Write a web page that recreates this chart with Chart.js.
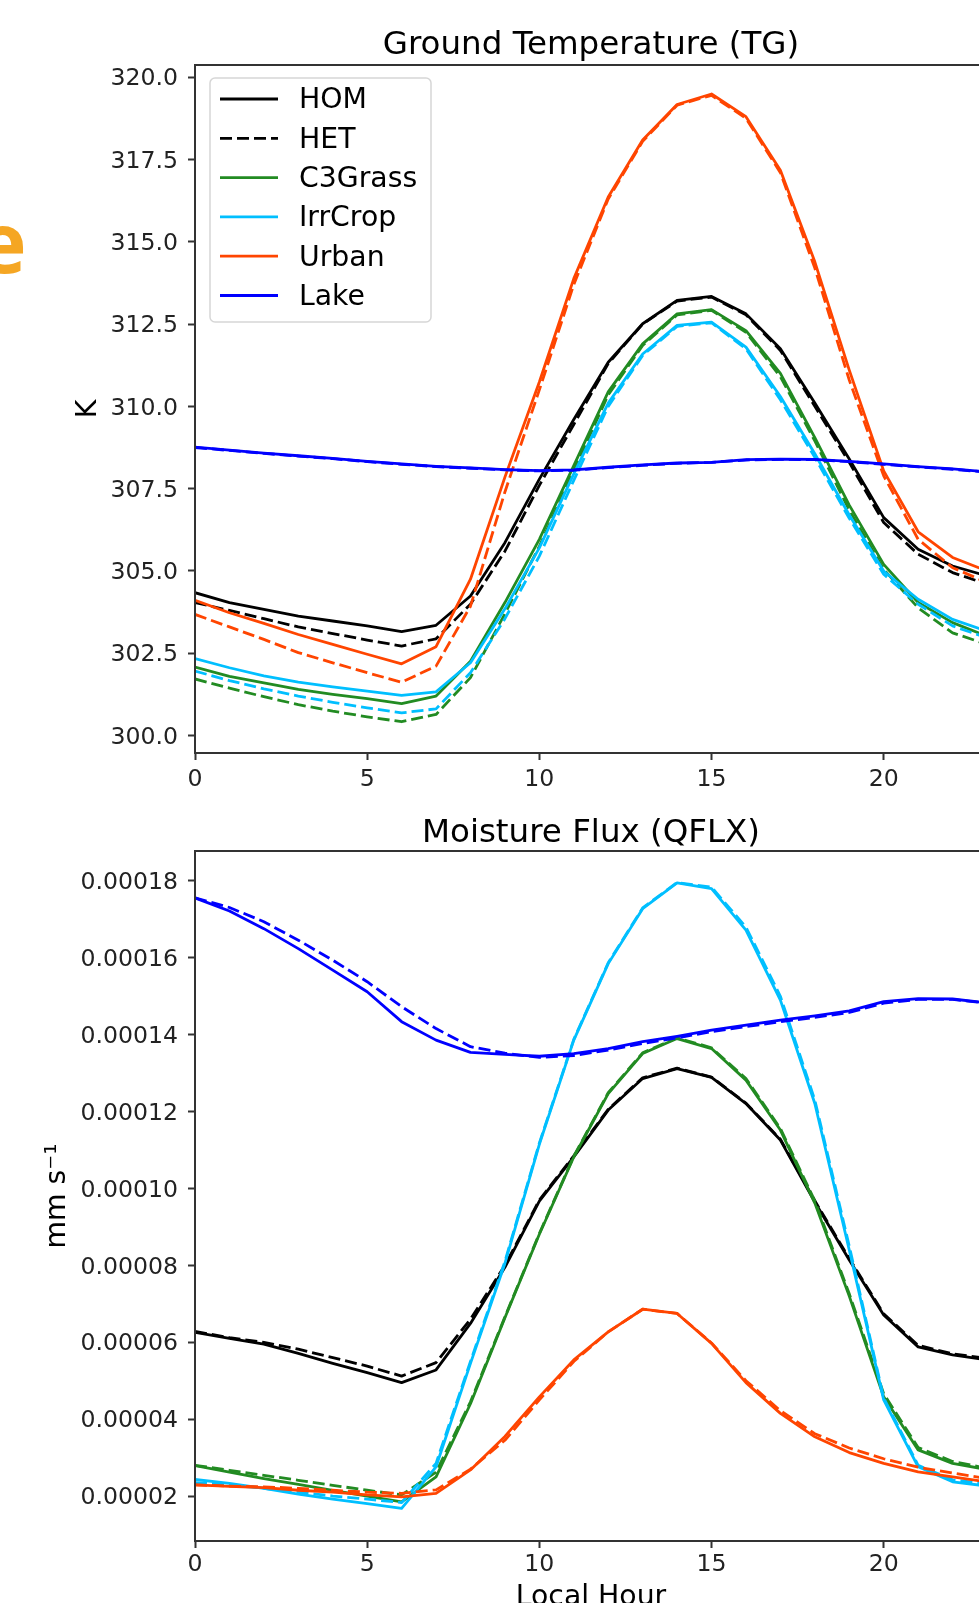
<!DOCTYPE html>
<html>
<head>
<meta charset="utf-8">
<script src="https://cdn.jsdelivr.net/npm/chart.js@4.4.1/dist/chart.umd.min.js"></script>
<style>
	body { margin: 0; background: #fff; overflow: hidden; width: 979px; height: 1603px; position: relative; }
	canvas { position: absolute; left: 0; }
	#tg { top: 0; }
	#qflx { top: 790px; }
	.cut { position: absolute; left: -23px; top: 199px; font: bold 84px "Open Sans", sans-serif; line-height: 84px; color: #f5a623; }
</style>
</head>
<body>
<div class="cut">e</div>
<canvas id="tg" width="1000" height="790"></canvas>
<canvas id="qflx" width="1000" height="831"></canvas>
<script>
const hours = [0, 1, 2, 3, 4, 5, 6, 7, 8, 9, 10, 11, 12, 13, 14, 15, 16, 17, 18, 19, 20, 21, 22, 23];
const hourTicks = [0, 5, 10, 15, 20];

// Ground temperature (K)
const tgHOM = [304.34, 304.04, 303.83, 303.63, 303.48, 303.33, 303.16, 303.35, 304.24, 305.86, 307.79, 309.60, 311.34, 312.51, 313.22, 313.34, 312.81, 311.75, 310.10, 308.40, 306.62, 305.66, 305.15, 304.85];
const tgHET = [304.04, 303.80, 303.55, 303.30, 303.10, 302.90, 302.72, 302.94, 303.99, 305.60, 307.60, 309.45, 311.30, 312.50, 313.20, 313.32, 312.78, 311.70, 310.00, 308.30, 306.47, 305.51, 304.95, 304.60];
const tgGrassHOM = [302.08, 301.80, 301.60, 301.40, 301.25, 301.12, 300.97, 301.20, 302.26, 304.04, 305.96, 308.20, 310.44, 311.90, 312.81, 312.94, 312.30, 311.00, 309.05, 307.00, 305.20, 304.04, 303.43, 303.02];
const tgGrassHET = [301.72, 301.44, 301.18, 300.94, 300.74, 300.57, 300.42, 300.64, 301.76, 303.70, 305.75, 308.05, 310.35, 311.85, 312.78, 312.92, 312.25, 310.90, 308.95, 306.85, 305.05, 303.88, 303.12, 302.77];
const tgCropHOM = [302.34, 302.06, 301.81, 301.62, 301.48, 301.35, 301.22, 301.33, 302.21, 303.85, 305.70, 307.95, 310.10, 311.59, 312.46, 312.56, 311.80, 310.30, 308.56, 306.70, 305.00, 304.14, 303.53, 303.17];
const tgCropHET = [301.96, 301.67, 301.42, 301.20, 301.01, 300.84, 300.69, 300.81, 301.91, 303.55, 305.45, 307.75, 310.00, 311.55, 312.43, 312.54, 311.75, 310.20, 308.45, 306.60, 304.90, 303.99, 303.33, 302.97];
const tgUrbanHOM = [304.11, 303.73, 303.41, 303.07, 302.77, 302.47, 302.18, 302.70, 304.75, 307.85, 310.74, 313.88, 316.36, 318.09, 319.17, 319.49, 318.80, 317.17, 314.39, 311.10, 308.04, 306.19, 305.41, 305.00];
const tgUrbanHET = [303.68, 303.30, 302.92, 302.52, 302.21, 301.91, 301.62, 302.11, 303.93, 307.40, 310.50, 313.70, 316.30, 318.05, 319.15, 319.45, 318.75, 317.10, 314.20, 310.80, 307.89, 305.96, 305.10, 304.65];
const tgLakeHOM = [308.76, 308.67, 308.58, 308.50, 308.42, 308.33, 308.25, 308.18, 308.13, 308.08, 308.05, 308.07, 308.15, 308.22, 308.28, 308.30, 308.38, 308.40, 308.39, 308.33, 308.25, 308.17, 308.10, 308.01];
const tgLakeHET = [308.75, 308.66, 308.57, 308.49, 308.41, 308.32, 308.24, 308.17, 308.12, 308.07, 308.04, 308.06, 308.14, 308.21, 308.27, 308.30, 308.37, 308.39, 308.38, 308.32, 308.24, 308.16, 308.09, 308.00];
const tgTicks = [300.0, 302.5, 305.0, 307.5, 310.0, 312.5, 315.0, 317.5, 320.0];

// Moisture flux (mm s-1)
const qHOM = [6.26e-5, 6.10e-5, 5.95e-5, 5.71e-5, 5.45e-5, 5.21e-5, 4.95e-5, 5.28e-5, 6.49e-5, 7.95e-5, 9.67e-5, 10.82e-5, 12.04e-5, 12.86e-5, 13.12e-5, 12.89e-5, 12.21e-5, 11.26e-5, 9.65e-5, 8.14e-5, 6.71e-5, 5.88e-5, 5.67e-5, 5.54e-5];
const qHET = [6.28e-5, 6.12e-5, 6.00e-5, 5.82e-5, 5.60e-5, 5.38e-5, 5.12e-5, 5.47e-5, 6.60e-5, 8.00e-5, 9.70e-5, 10.85e-5, 12.06e-5, 12.88e-5, 13.13e-5, 12.90e-5, 12.22e-5, 11.28e-5, 9.68e-5, 8.18e-5, 6.74e-5, 5.92e-5, 5.70e-5, 5.58e-5];
const qGrassHOM = [2.79e-5, 2.62e-5, 2.45e-5, 2.30e-5, 2.15e-5, 2.00e-5, 1.85e-5, 2.50e-5, 4.40e-5, 6.64e-5, 8.81e-5, 10.82e-5, 12.47e-5, 13.51e-5, 13.90e-5, 13.64e-5, 12.82e-5, 11.52e-5, 9.62e-5, 7.20e-5, 4.58e-5, 3.20e-5, 2.85e-5, 2.69e-5];
const qGrassHET = [2.80e-5, 2.67e-5, 2.54e-5, 2.41e-5, 2.28e-5, 2.15e-5, 2.03e-5, 2.62e-5, 4.45e-5, 6.66e-5, 8.83e-5, 10.84e-5, 12.49e-5, 13.53e-5, 13.92e-5, 13.66e-5, 12.86e-5, 11.56e-5, 9.68e-5, 7.26e-5, 4.66e-5, 3.26e-5, 2.90e-5, 2.72e-5];
const qCropHOM = [2.43e-5, 2.33e-5, 2.20e-5, 2.05e-5, 1.92e-5, 1.80e-5, 1.68e-5, 2.76e-5, 5.45e-5, 8.05e-5, 11.15e-5, 13.86e-5, 15.85e-5, 17.28e-5, 17.95e-5, 17.80e-5, 16.72e-5, 14.90e-5, 12.21e-5, 8.40e-5, 4.50e-5, 2.76e-5, 2.37e-5, 2.26e-5];
const qCropHET = [2.35e-5, 2.29e-5, 2.20e-5, 2.10e-5, 2.00e-5, 1.92e-5, 1.83e-5, 2.85e-5, 5.50e-5, 8.10e-5, 11.18e-5, 13.88e-5, 15.87e-5, 17.30e-5, 17.96e-5, 17.84e-5, 16.80e-5, 15.00e-5, 12.30e-5, 8.50e-5, 4.55e-5, 2.80e-5, 2.42e-5, 2.32e-5];
const qUrbanHOM = [2.29e-5, 2.25e-5, 2.22e-5, 2.15e-5, 2.10e-5, 2.03e-5, 1.98e-5, 2.07e-5, 2.68e-5, 3.55e-5, 4.58e-5, 5.54e-5, 6.27e-5, 6.86e-5, 6.75e-5, 5.97e-5, 4.95e-5, 4.15e-5, 3.54e-5, 3.13e-5, 2.85e-5, 2.63e-5, 2.50e-5, 2.37e-5];
const qUrbanHET = [2.29e-5, 2.26e-5, 2.24e-5, 2.20e-5, 2.15e-5, 2.10e-5, 2.07e-5, 2.16e-5, 2.70e-5, 3.45e-5, 4.50e-5, 5.50e-5, 6.27e-5, 6.86e-5, 6.75e-5, 5.98e-5, 5.00e-5, 4.22e-5, 3.62e-5, 3.25e-5, 2.97e-5, 2.75e-5, 2.60e-5, 2.45e-5];
const qLakeHOM = [17.56e-5, 17.22e-5, 16.76e-5, 16.24e-5, 15.68e-5, 15.12e-5, 14.34e-5, 13.86e-5, 13.54e-5, 13.49e-5, 13.44e-5, 13.51e-5, 13.64e-5, 13.82e-5, 13.96e-5, 14.12e-5, 14.25e-5, 14.38e-5, 14.49e-5, 14.62e-5, 14.86e-5, 14.94e-5, 14.93e-5, 14.83e-5];
const qLakeHET = [17.56e-5, 17.31e-5, 16.94e-5, 16.46e-5, 15.94e-5, 15.38e-5, 14.73e-5, 14.16e-5, 13.69e-5, 13.52e-5, 13.41e-5, 13.46e-5, 13.60e-5, 13.77e-5, 13.92e-5, 14.08e-5, 14.21e-5, 14.34e-5, 14.45e-5, 14.58e-5, 14.82e-5, 14.92e-5, 14.92e-5, 14.82e-5];
const qTicks = [2e-5, 4e-5, 6e-5, 8e-5, 10e-5, 12e-5, 14e-5, 16e-5, 18e-5];

const dash = [12, 5];
const axisColor = '#333';
const tickFont = 23.6;
const labelFont = 28.3;

Chart.defaults.font.family = "'DejaVu Sans'";
Chart.defaults.color = '#222';

function series(label, values, color, dashed, inLegend) {
	return {
		label: label,
		data: hours.map((h, i) => ({ x: h, y: values[i] })),
		borderColor: color,
		backgroundColor: color,
		borderWidth: 2.8,
		borderDash: dashed ? dash : [],
		borderJoinStyle: 'round',
		pointRadius: 0,
		tension: 0,
		inLegend: inLegend,
	};
}

function buildDatasets(set) {
	const list = [
		series('HOM', set[0], '#000000', false, true),
		series('HET', set[1], '#000000', true, true),
		series('C3Grass', set[2], '#228b22', false, true),
		series('C3Grass HET', set[3], '#228b22', true, false),
		series('IrrCrop', set[4], '#00bfff', false, true),
		series('IrrCrop HET', set[5], '#00bfff', true, false),
		series('Urban', set[6], '#ff4500', false, true),
		series('Urban HET', set[7], '#ff4500', true, false),
		series('Lake', set[8], '#0000ff', false, true),
		series('Lake HET', set[9], '#0000ff', true, false),
	];
	// later series drawn on top, like the plotting order
	list.forEach((d, i) => { d.order = -i; });
	return list;
}

const frame = {
	id: 'frame',
	afterDatasetsDraw(chart) {
		const { ctx, chartArea: a } = chart;
		ctx.save();
		ctx.strokeStyle = axisColor;
		ctx.lineWidth = 2;
		ctx.strokeRect(a.left, a.top, a.right - a.left, a.bottom - a.top);
		ctx.restore();
	}
};

const legendBox = {
	id: 'legendBox',
	afterDatasetsDraw(chart) {
		const { ctx, chartArea } = chart;
		const items = chart.data.datasets.filter(d => d.inLegend);
		const x0 = chartArea.left + 15;
		const y0 = chartArea.top + 13;
		const rowH = 39.3;
		ctx.save();
		ctx.fillStyle = 'rgba(255,255,255,0.8)';
		ctx.strokeStyle = 'rgba(204,204,204,0.8)';
		ctx.lineWidth = 1.5;
		ctx.beginPath();
		ctx.roundRect(x0, y0, 221, 244, 5);
		ctx.fill();
		ctx.stroke();
		ctx.font = labelFont + "px 'DejaVu Sans'";
		ctx.textBaseline = 'middle';
		items.forEach((d, i) => {
			const y = y0 + 21 + i * rowH;
			ctx.strokeStyle = d.borderColor;
			ctx.lineWidth = d.borderWidth;
			ctx.setLineDash(d.borderDash);
			ctx.beginPath();
			ctx.moveTo(x0 + 10, y);
			ctx.lineTo(x0 + 68, y);
			ctx.stroke();
			ctx.setLineDash([]);
			ctx.fillStyle = '#000';
			ctx.fillText(d.label, x0 + 89, y + 2);
		});
		ctx.restore();
	}
};

function makeChart(id, opts) {
	const ctx = document.getElementById(id).getContext('2d');
	return new Chart(ctx, {
		type: 'line',
		data: { datasets: opts.datasets },
		options: {
			responsive: false,
			animation: false,
			layout: { padding: { left: 0, right: 13, top: 0, bottom: 0 } },
			plugins: {
				legend: { display: false },
				tooltip: { enabled: false },
				title: {
					display: true,
					text: opts.title,
					fullSize: false,
					color: '#000',
					font: { size: 32.5, weight: 'normal', lineHeight: 1 },
					padding: opts.titlePadding
				}
			},
			scales: {
				x: {
					type: 'linear',
					min: 0,
					max: 23,
					afterBuildTicks: s => { s.ticks = hourTicks.map(v => ({ value: v })); },
					afterFit: s => { s.height = opts.xHeight; },
					ticks: { font: { size: tickFont }, padding: opts.xTickPad, maxRotation: 0, callback: v => String(v) },
					grid: { drawOnChartArea: false, tickLength: 7, tickWidth: 2, tickColor: axisColor },
					border: { color: axisColor, width: 2 },
					title: opts.xTitle
				},
				y: {
					min: opts.yMin,
					max: opts.yMax,
					afterBuildTicks: s => { s.ticks = opts.yTicks.map(v => ({ value: v })); },
					afterFit: s => { s.width = 195; },
					ticks: { font: { size: tickFont }, padding: 10, labelOffset: 2, callback: opts.yFormat },
					grid: { drawOnChartArea: false, tickLength: 7, tickWidth: 2, tickColor: axisColor },
					border: { color: axisColor, width: 2 },
					title: {
						display: true,
						text: opts.yLabel,
						color: '#000',
						font: { size: labelFont },
						padding: { top: opts.yTitlePad, bottom: 0 }
					}
				}
			}
		},
		plugins: opts.legend ? [frame, legendBox] : [frame]
	});
}

document.addEventListener('DOMContentLoaded', () => {
	makeChart('tg', {
		datasets: buildDatasets([tgHOM, tgHET, tgGrassHOM, tgGrassHET, tgCropHOM, tgCropHET, tgUrbanHOM, tgUrbanHET, tgLakeHOM, tgLakeHET]),
		title: 'Ground Temperature (TG)',
		titlePadding: { top: 29.5, bottom: 3 },
		xHeight: 37,
		xTickPad: 6,
		xTitle: { display: false },
		yMin: 299.47,
		yMax: 320.37,
		yTicks: tgTicks,
		yFormat: v => v.toFixed(1),
		yLabel: 'K',
		yTitlePad: 71.6,
		legend: true
	});

	makeChart('qflx', {
		datasets: buildDatasets([qHOM, qHET, qGrassHOM, qGrassHET, qCropHOM, qCropHET, qUrbanHOM, qUrbanHET, qLakeHOM, qLakeHET]),
		title: 'Moisture Flux (QFLX)',
		titlePadding: { top: 27, bottom: 1.5 },
		xHeight: 80,
		xTickPad: 3,
		xTitle: { display: true, text: 'Local Hour', color: '#000', font: { size: labelFont }, padding: { top: 0, bottom: 6.5 } },
		yMin: 0.0000083,
		yMax: 0.0001878,
		yTicks: qTicks,
		yFormat: v => v.toFixed(5),
		yLabel: 'mm s\u207b\u00b9',
		yTitlePad: 41,
		legend: false
	});
});
</script>
</body>
</html>
